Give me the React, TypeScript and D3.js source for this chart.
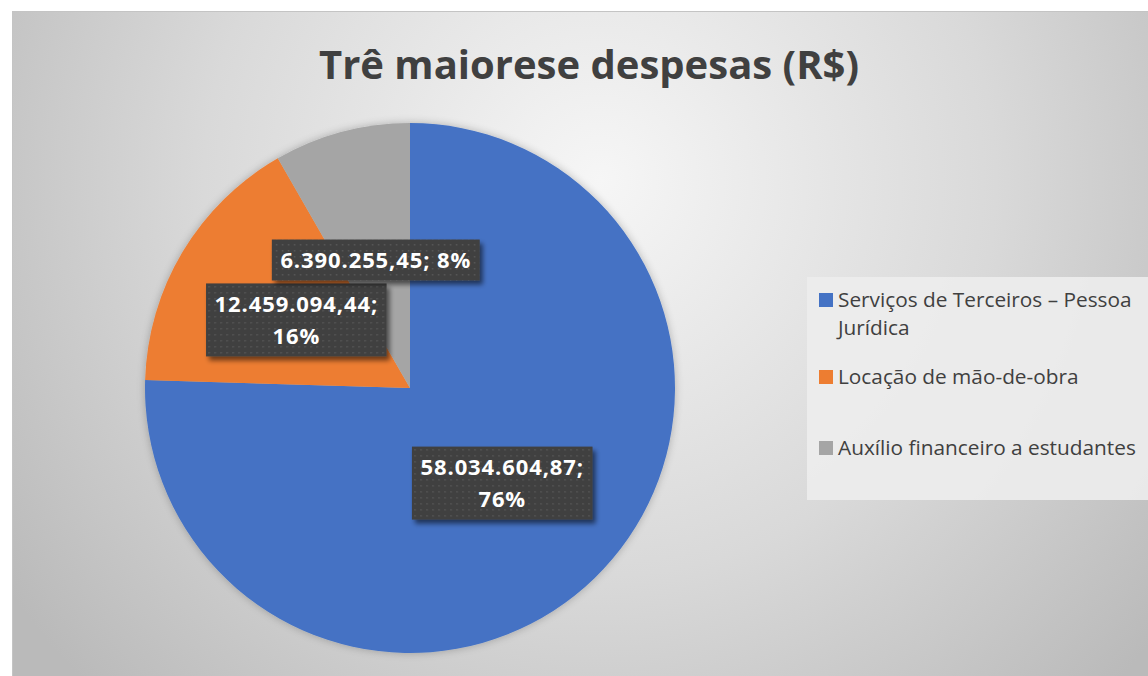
import React from "react";
import * as d3 from "d3";

const title = "Trê maiorese despesas (R$)";
const categories = [
  "Serviços de Terceiros – Pessoa Jurídica",
  "Locação de mão-de-obra",
  "Auxílio financeiro a estudantes",
];
const values = [58034604.87, 12459094.44, 6390255.45];
const valueLabels = ["58.034.604,87", "12.459.094,44", "6.390.255,45"];
const percentLabels = ["76%", "16%", "8%"];
const legendLines = [["Serviços de Terceiros – Pessoa", "Jurídica"], ["Locação de mão-de-obra"], ["Auxílio financeiro a estudantes"]];
const labelLines = [
  ["58.034.604,87;", "76%"],
  ["12.459.094,44;", "16%"],
  ["6.390.255,45; 8%"],
];
const colors = ["#4472c4", "#ed7d31", "#a5a5a5"];

const W = 1148;
const H = 676;

export default function App() {
  const cx = 410;
  const cy = 388;
  const r = 265;
  const pie = d3.pie<number>().sort(null).startAngle(0).endAngle(2 * Math.PI);
  const arcs = pie(values);
  const arc = d3.arc<d3.PieArcDatum<number>>().innerRadius(0).outerRadius(r);

  const labelFont = '"Open Sans", sans-serif';
  const labelSize = 22;
  const ls = 0.9;
  const lineH = 32;
  const measure = (s: string) => {
    const c = document.createElement("canvas").getContext("2d")!;
    c.font = `bold ${labelSize}px ${labelFont}`;
    return c.measureText(s).width + (s.length - 1) * ls;
  };

  const legendY = [307, 384, 455];

  return (
    <svg width={W} height={H} style={{ position: "absolute", left: 0, top: 0 }}>
      <defs>
        <radialGradient id="bg" gradientUnits="userSpaceOnUse" cx={600} cy={180} r={720}>
          <stop offset="0" stopColor="#f6f6f6" />
          <stop offset="0.55" stopColor="#d9d9d9" />
          <stop offset="1" stopColor="#bababa" />
        </radialGradient>
        <pattern id="dots" width={6} height={6} patternUnits="userSpaceOnUse">
          <rect width={6} height={6} fill="#404040" />
          <rect x={2} y={2} width={1.5} height={1.5} fill="#575757" />
        </pattern>
        <filter id="shadow" x="-20%" y="-20%" width="150%" height="160%">
          <feGaussianBlur in="SourceAlpha" stdDeviation={2.5} />
          <feOffset dx={3} dy={4} result="b" />
          <feComponentTransfer>
            <feFuncA type="linear" slope={0.55} />
          </feComponentTransfer>
          <feMerge>
            <feMergeNode />
            <feMergeNode in="SourceGraphic" />
          </feMerge>
        </filter>
        <filter id="pieglow" x="-10%" y="-10%" width="120%" height="120%">
          <feGaussianBlur in="SourceAlpha" stdDeviation={4} />
          <feComponentTransfer>
            <feFuncA type="linear" slope={0.25} />
          </feComponentTransfer>
          <feMerge>
            <feMergeNode />
            <feMergeNode in="SourceGraphic" />
          </feMerge>
        </filter>
      </defs>
      <rect x={0} y={0} width={W} height={H} fill="#ffffff" />
      <rect x={12} y={11} width={W - 12} height={H - 11} fill="url(#bg)" />
      <line x1={12} y1={11.5} x2={W} y2={11.5} stroke="#c4c4c4" />
      <line x1={12.5} y1={11} x2={12.5} y2={H} stroke="#c4c4c4" />

      <text
        x={589}
        y={79}
        textAnchor="middle"
        fontFamily={labelFont}
        fontWeight="bold"
        fontSize={40}
        fill="#404040"
      >
        {title}
      </text>

      <g transform={`translate(${cx},${cy})`} filter="url(#pieglow)">
        {arcs.map((a, i) => (
          <path key={categories[i]} d={arc(a) || ""} fill={colors[i]} />
        ))}
      </g>

      <g transform={`translate(${cx},${cy})`}>
        {arcs.map((a, i) => {
          const [mx, my] = arc.centroid(a);
          const lines = labelLines[i];
          const wMax = Math.max(...lines.map(measure));
          const bw = wMax + 18;
          const bh = lines.length * lineH + 9;
          return (
            <g key={valueLabels[i] + percentLabels[i]} transform={`translate(${mx},${my})`}>
              <rect x={-bw / 2} y={-bh / 2} width={bw} height={bh} fill="url(#dots)" filter="url(#shadow)" />
              {lines.map((l, j) => (
                <text
                  key={j}
                  x={0}
                  y={-bh / 2 + 4.5 + lineH * j + 24}
                  textAnchor="middle"
                  fontFamily={labelFont}
                  fontWeight="bold"
                  fontSize={labelSize}
                  letterSpacing={ls}
                  fill="#ffffff"
                >
                  {l}
                </text>
              ))}
            </g>
          );
        })}
      </g>

      <rect x={807} y={277} width={W - 807} height={223} fill="#ededed" fillOpacity={0.92} />
      {categories.map((c, i) => (
        <g key={c}>
          <rect x={819} y={legendY[i] - 14} width={14} height={14} fill={colors[i]} />
          {legendLines[i].map((l, j) => (
            <text
              key={j}
              x={838}
              y={legendY[i] + j * 28}
              fontFamily={labelFont}
              fontSize={20.8}
              fill="#404040"
            >
              {l}
            </text>
          ))}
        </g>
      ))}
    </svg>
  );
}
